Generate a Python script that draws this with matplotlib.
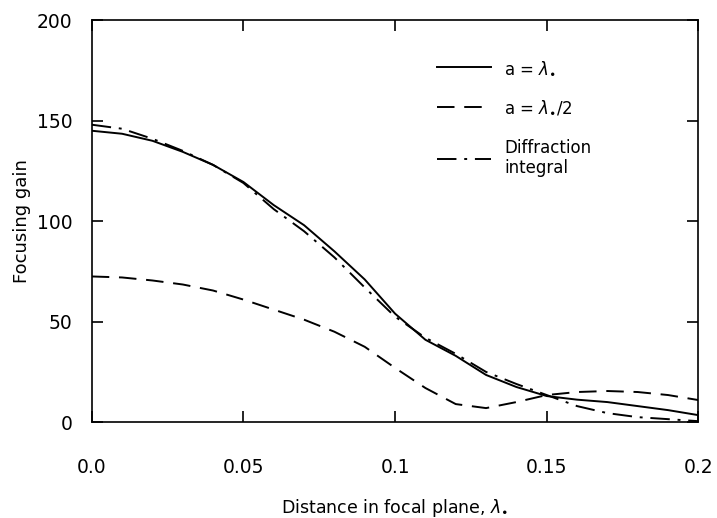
import matplotlib.pyplot as plt
import numpy as np

# valores
x = [0.0, 0.01, 0.02, 0.03, 0.04, 0.05, 0.06, 0.07, 0.08, 0.09, 0.10,
     0.11, 0.12, 0.13, 0.14, 0.15, 0.16, 0.17, 0.18, 0.19, 0.20]
gain_a1 = [145, 143.5, 140, 134.5, 128, 119.5, 108, 98, 85, 71, 54,
           41, 33, 23.5, 17.5, 13, 11.2, 10, 8, 6, 3.5]
gain_a2 = [72.5, 72, 70.5, 68.5, 65.5, 61, 56, 51, 45, 37.5, 27,
           17, 9, 7, 10, 13.5, 15, 15.5, 15, 13.5, 11]
gain_diff = [148, 146, 141, 135, 128, 119, 106, 95, 82, 67, 52.5,
             42, 34, 25, 19, 13.5, 8, 4.5, 2.5, 1.5, 0.5]

x_ticks = [0.0, 0.05, 0.1, 0.15, 0.2]
x_ticklabels = ["0.0", "0.05", "0.1", "0.15", "0.2"]
y_ticks = [0, 50, 100, 150, 200]

plt.rcParams['font.family'] = ['DejaVu Sans']
fig = plt.figure(figsize=(7.17, 5.18), dpi=100)
ax = fig.add_axes([0.128, 0.185, 0.846, 0.776])

ax.plot(x, gain_a1, color="black", lw=1.4, label=r"a = $\lambda_{\bullet}$")
ax.plot(x, gain_a2, color="black", lw=1.4, dashes=(9, 5), label=r"a = $\lambda_{\bullet}$/2")
ax.plot(x, gain_diff, color="black", lw=1.4, dashes=(10, 4, 1.5, 4),
        label="Diffraction\nintegral")

ax.set_xlim(0, 0.2)
ax.set_ylim(0, 200)
ax.set_xticks(x_ticks)
ax.set_xticklabels(x_ticklabels)
ax.set_yticks(y_ticks)
ax.tick_params(direction="in", length=8, width=1.2, labelsize=13.5,
               top=True, right=True)
ax.tick_params(axis="x", pad=26)
ax.tick_params(axis="y", pad=14)
for s in ax.spines.values():
    s.set_linewidth(1.2)

ax.set_xlabel(r"Distance in focal plane, $\lambda_{\bullet}$", fontsize=12.5, labelpad=14)
ax.set_ylabel("Focusing gain", fontsize=13, labelpad=4)

ax.legend(loc="upper left", bbox_to_anchor=(0.545, 0.94), frameon=False,
          fontsize=12, handlelength=3.2, handletextpad=0.8, labelspacing=1.3)

plt.savefig("out.png", dpi=100)
